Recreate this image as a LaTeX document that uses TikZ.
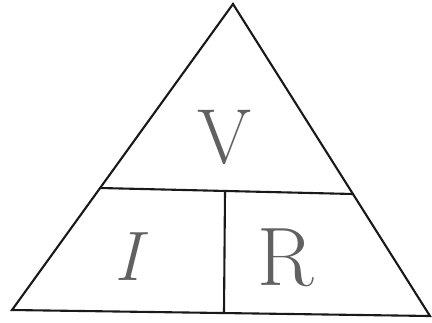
\documentclass[tikz,border=0pt]{standalone}
\usepackage{fontspec}
\begin{document}
\begin{tikzpicture}[x=1pt,y=-1pt,
  edge/.style={line width=2.1pt,black!90,line join=miter,line cap=round},
  letter/.style={anchor=base,text=black!62,inner sep=0pt}]
\useasboundingbox (0,0) rectangle (432,322);
\coordinate (apex) at (233,4);
\coordinate (bl) at (12,310);
\coordinate (br) at (430,316);
\coordinate (ml) at (100,188);
\coordinate (mr) at (353,194);
\coordinate (mt) at (225,192);
\coordinate (mb) at (224,313);
\draw[edge] (apex) -- (bl) -- (br) -- cycle;
\draw[edge] (ml) -- (mr);
\draw[edge] (mt) -- (mb);
\node[letter,font=\fontsize{78}{78}\selectfont] (V) at (225,163) {V};
\node[letter,font=\fontsize{70}{70}\selectfont\itshape] (I) at (128,280) {I};
\node[letter,font=\fontsize{83}{83}\selectfont] (R) at (286,285) {R};
\end{tikzpicture}
\end{document}
